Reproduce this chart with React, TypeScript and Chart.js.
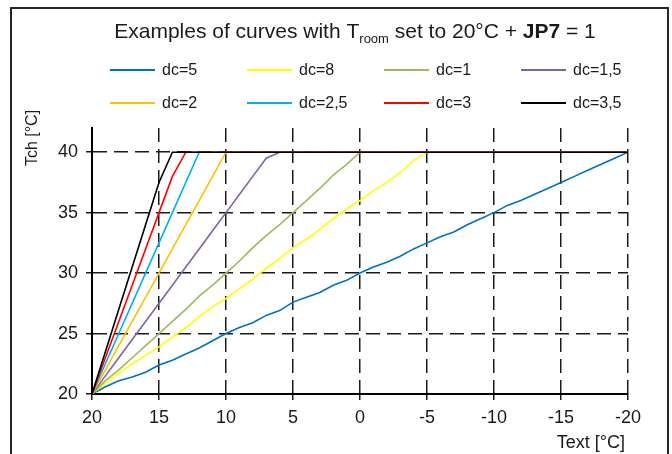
import { useEffect, useRef } from "react";
import { Chart, registerables } from "chart.js";

Chart.register(...registerables);

const textTemps = [20, 19, 18, 17, 16, 15, 14, 13, 12, 11, 10, 9, 8, 7, 6, 5, 4, 3, 2, 1, 0, -1, -2, -3, -4, -5, -6, -7, -8, -9, -10, -11, -12, -13, -14, -15, -16, -17, -18, -19, -20];
const seriesNames = ["dc=5", "dc=8", "dc=1", "dc=1,5", "dc=2", "dc=2,5", "dc=3", "dc=3,5"];
const seriesColors = ["#0070C0", "#FFFF00", "#9BBB59", "#8064A2", "#FFC000", "#00B0F0", "#FF0000", "#000000"];

const dc5 = [20, 20.6, 21.1, 21.4, 21.8, 22.4, 22.8, 23.3, 23.8, 24.4, 25.0, 25.5, 25.9, 26.5, 26.9, 27.6, 28.0, 28.4, 29.0, 29.4, 30.0, 30.5, 30.9, 31.4, 32.0, 32.5, 33.0, 33.4, 34.0, 34.5, 35.0, 35.6, 36.0, 36.5, 37.0, 37.5, 38.0, 38.5, 39.0, 39.5, 40.0];
const dc8 = [20, 20.9, 21.7, 22.5, 23.2, 23.9, 24.7, 25.5, 26.4, 27.2, 27.9, 28.7, 29.5, 30.4, 31.2, 32.1, 32.8, 33.6, 34.5, 35.3, 36.0, 36.8, 37.5, 38.3, 39.3, 40];
const dc1 = [20, 21.1, 22, 23, 24, 25, 26, 27, 28.1, 29, 30, 31, 32.1, 33.1, 34, 35, 36, 37, 38.1, 39, 40];
const dc15 = [20, 21.5, 23, 24.5, 26, 27.5, 29, 30.5, 32, 33.5, 35, 36.5, 38, 39.5, 40];
const dc2 = [20, 22, 24, 26, 28, 30, 32, 34, 36, 38, 40];
const dc25 = [20, 22.5, 25, 27.5, 30, 32.5, 35, 37.5, 40];
const dc3 = [20, 23, 26, 29, 32, 35, 38, 40];
const dc35 = [20, 23.5, 27, 30.5, 34, 37.5, 40];
const plateauPoint = { x: -20, y: 40 };

const xTicks = [20, 15, 10, 5, 0, -5, -10, -15, -20];
const yTicks = [20, 25, 30, 35, 40];

const FONT = "'Liberation Sans', Arial, sans-serif";
const TEXT_COLOR = "#1a1a1a";

const overlayPlugin = {
  id: "overlay",
  afterDraw(chart: any) {
    const ctx = chart.ctx as CanvasRenderingContext2D;
    ctx.save();
    // outer frame
    ctx.strokeStyle = "#262626";
    ctx.lineWidth = 2;
    ctx.strokeRect(11, 8, 657, 480);

    // title with subscript and bold part
    const parts = [
      { t: "Examples of curves with T", f: `21px ${FONT}`, dy: 0 },
      { t: "room", f: `13px ${FONT}`, dy: 5 },
      { t: " set to 20°C + ", f: `21px ${FONT}`, dy: 0 },
      { t: "JP7", f: `bold 21px ${FONT}`, dy: 0 },
      { t: " = 1", f: `21px ${FONT}`, dy: 0 },
    ];
    let total = 0;
    parts.forEach((p) => {
      ctx.font = p.f;
      total += ctx.measureText(p.t).width;
    });
    let x = 355 - total / 2;
    const baseY = 38;
    ctx.fillStyle = TEXT_COLOR;
    ctx.textBaseline = "alphabetic";
    ctx.textAlign = "left";
    parts.forEach((p) => {
      ctx.font = p.f;
      ctx.fillText(p.t, x, baseY + p.dy);
      x += ctx.measureText(p.t).width;
    });

    // legend
    ctx.font = `16px ${FONT}`;
    ctx.textBaseline = "middle";
    seriesNames.forEach((name, i) => {
      const col = i % 4;
      const row = Math.floor(i / 4);
      const x0 = 110 + col * 137;
      const y = 70 + row * 33;
      ctx.strokeStyle = seriesColors[i];
      ctx.lineWidth = 2;
      ctx.beginPath();
      ctx.moveTo(x0, y);
      ctx.lineTo(x0 + 45, y);
      ctx.stroke();
      ctx.fillStyle = TEXT_COLOR;
      ctx.fillText(name, x0 + 52, y + 1);
    });

    // axis titles
    ctx.font = `18px ${FONT}`;
    ctx.textAlign = "right";
    ctx.textBaseline = "middle";
    ctx.fillText("Text [°C]", 625, 443);
    ctx.save();
    ctx.font = `16px ${FONT}`;
    ctx.translate(33, 138);
    ctx.rotate(-Math.PI / 2);
    ctx.textAlign = "center";
    ctx.fillText("Tch [°C]", 0, 0);
    ctx.restore();

    ctx.restore();
  },
};

export default function App() {
  const ref = useRef<HTMLCanvasElement | null>(null);

  useEffect(() => {
    if (!ref.current) return;
    const seriesValues = [dc5, dc8, dc1, dc15, dc2, dc25, dc3, dc35];
    const datasets = seriesValues.map((vals, i) => ({
      label: seriesNames[i],
      data: [...vals.map((v, k) => ({ x: textTemps[k], y: v })), plateauPoint],
      borderColor: seriesColors[i],
      backgroundColor: seriesColors[i],
      borderWidth: 1.6,
      pointRadius: 0,
      tension: 0,
      fill: false,
      order: seriesValues.length - i,
    }));

    const gridOpts = {
      color: "#1a1a1a",
      lineWidth: 1.5,
      tickBorderDash: [],
      tickLength: 6,
      tickColor: "#1a1a1a",
      tickWidth: 1.5,
    };
    const borderOpts = { display: true, color: "#000", width: 2, dash: [14, 7] };

    const chart = new Chart(ref.current, {
      type: "line",
      data: { datasets },
      options: {
        animation: false,
        responsive: false,
        layout: { padding: { left: 0, right: 44, top: 128, bottom: 0 } },
        plugins: { legend: { display: false }, title: { display: false }, tooltip: { enabled: false } },
        scales: {
          x: {
            type: "linear",
            reverse: true,
            min: -20,
            max: 20,
            afterBuildTicks: (s: any) => {
              s.ticks = xTicks.map((v) => ({ value: v }));
            },
            afterFit: (s: any) => {
              s.height = 60;
            },
            ticks: {
              color: TEXT_COLOR,
              font: { family: FONT, size: 18 },
              padding: 7,
              maxRotation: 0,
              autoSkip: false,
            },
            grid: gridOpts,
            border: borderOpts,
          },
          y: {
            type: "linear",
            min: 20,
            max: 42,
            afterBuildTicks: (s: any) => {
              s.ticks = yTicks.map((v) => ({ value: v }));
            },
            afterFit: (s: any) => {
              s.width = 92;
            },
            ticks: {
              color: TEXT_COLOR,
              font: { family: FONT, size: 18 },
              padding: 8,
              autoSkip: false,
            },
            grid: gridOpts,
            border: borderOpts,
          },
        },
      },
      plugins: [overlayPlugin],
    } as any);

    return () => chart.destroy();
  }, []);

  return (
    <div style={{ position: "fixed", left: 0, top: 0, width: 672, height: 454, background: "#fff" }}>
      <canvas ref={ref} width={672} height={454} style={{ display: "block" }} />
    </div>
  );
}
